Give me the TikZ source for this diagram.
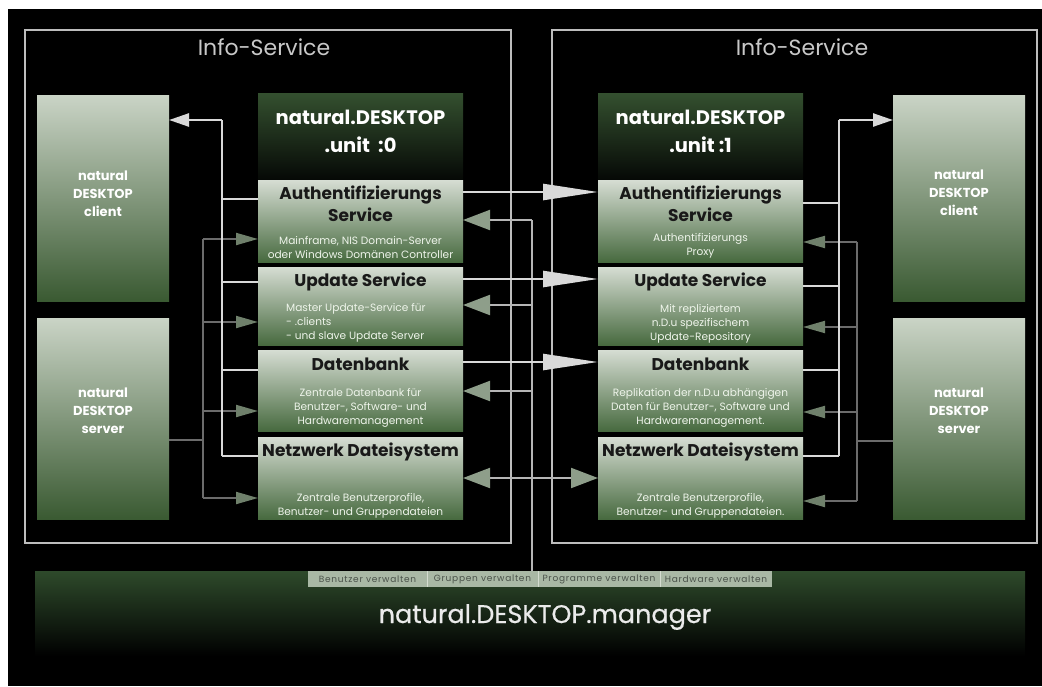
\documentclass[tikz,border=0pt]{standalone}
\usepackage{fontspec}
\setmainfont{Poppins}
\newfontfamily\tabfont[LetterSpace=8]{Poppins}
\newfontfamily\mgrfont[FakeBold=0.6]{Poppins}
\usetikzlibrary{calc,arrows.meta}
\definecolor{svctop}{HTML}{D6DDD3}
\definecolor{svcbot}{HTML}{476A3F}
\definecolor{sidetop}{HTML}{CAD4C6}
\definecolor{sidebot}{HTML}{3A5A32}
\definecolor{hdrtop}{HTML}{34502F}
\definecolor{hdrbot}{HTML}{060906}
\definecolor{mgrtop}{HTML}{2E4A2B}
\definecolor{wline}{HTML}{D9D9D9}
\definecolor{gline}{HTML}{6B6B6B}
\definecolor{mline}{HTML}{B5B5B5}
\definecolor{gtipS}{HTML}{6F806B}
\definecolor{gtipL}{HTML}{8E9E8A}
\definecolor{framec}{HTML}{BDBDBD}
\definecolor{tabfill}{HTML}{A9B8A5}
\definecolor{tabsepc}{HTML}{D4DCD0}
\definecolor{tabtext}{HTML}{4A524A}
\definecolor{smalltxt}{HTML}{EEF4EA}
\definecolor{infotxt}{HTML}{C8C8C8}
\tikzset{
  wS/.tip={Triangle[length=20pt,width=13pt]},
  wL/.tip={Triangle[length=55pt,width=16pt]},
  gS/.tip={Triangle[length=22pt,width=12pt,color=gtipS]},
  gL/.tip={Triangle[length=27pt,width=20pt,color=gtipL]},
  box/.style={rectangle, inner sep=0pt, outer sep=0pt, anchor=north west, draw=none},
  svc/.style={box, minimum width=205pt, top color=svctop, bottom color=svcbot},
  hdr/.style={box, minimum width=205pt, minimum height=86pt, top color=hdrtop, bottom color=hdrbot},
  side/.style={box, minimum width=132pt, top color=sidetop, bottom color=sidebot},
  frm/.style={box, draw=framec, line width=1.6pt},
  ttl/.style={inner sep=0pt, align=center, text=black!90, font=\fontsize{17}{22}\selectfont\bfseries},
  sml/.style={inner sep=0pt, align=center, text=smalltxt, font=\fontsize{10.6}{14}\selectfont},
  sidetxt/.style={inner sep=0pt, align=center, text=white, font=\fontsize{13}{18}\selectfont\bfseries},
  hdrtxt/.style={inner sep=0pt, align=center, text=white, font=\fontsize{19.5}{28}\selectfont\bfseries},
  info/.style={inner sep=0pt, text=infotxt, font=\fontsize{22}{26}\selectfont},
  mgrtxt/.style={inner sep=0pt, text=white!92!black, font=\mgrfont\fontsize{25.5}{30}\selectfont},
  tabtxt/.style={inner sep=0pt, text=tabtext, font=\tabfont\fontsize{9}{10}\selectfont},
  wl/.style={draw=wline, line width=2.5pt},
  gl/.style={draw=gline, line width=2pt},
  ml/.style={draw=mline, line width=2pt},
  tabsep/.style={draw=tabsepc, line width=1pt}
}
\begin{document}
\begin{tikzpicture}[x=1pt,y=-1pt]
\useasboundingbox (0,0) rectangle (1042,686);
\fill[white] (0,0) rectangle (1042,686);
\fill[black] (8,9) rectangle (1042,686);

% frames
\node[frm, minimum width=486pt, minimum height=513pt] (LF) at (25,30) {};
\node[frm, minimum width=485pt, minimum height=513pt] (RF) at (552,30) {};
\node[info] (LFt) at (264,47) {Info-Service};
\node[info] (RFt) at (802,47) {Info-Service};

% left unit
\node[side, minimum height=206pt] (LC) at (37,95) {};
\node[side, minimum height=201pt] (LS) at (37,318) {};
\node[hdr] (LH) at (258,93) {};
\node[svc, minimum height=82pt] (LA) at (258,180) {};
\node[svc, minimum height=78pt] (LU) at (258,267) {};
\node[svc, minimum height=81pt] (LD) at (258,350) {};
\node[svc, minimum height=82pt] (LN) at (258,437) {};

% right unit
\node[side, minimum height=206pt] (RC) at (893,95) {};
\node[side, minimum height=201pt] (RS) at (893,318) {};
\node[hdr] (RH) at (598,93) {};
\node[svc, minimum height=82pt] (RA) at (598,180) {};
\node[svc, minimum height=78pt] (RU) at (598,267) {};
\node[svc, minimum height=81pt] (RD) at (598,350) {};
\node[svc, minimum height=82pt] (RN) at (598,437) {};

% manager
\node[box, minimum width=990pt, minimum height=85pt, top color=mgrtop, bottom color=black] (M) at (35,571) {};
\node[box, minimum width=464pt, minimum height=16pt, fill=tabfill] (T) at (308,571) {};
\draw[tabsep] ($(T.north west)+(119,0)$) -- ($(T.south west)+(119,0)$);
\draw[tabsep] ($(T.north west)+(230,0)$) -- ($(T.south west)+(230,0)$);
\draw[tabsep] ($(T.north west)+(352,0)$) -- ($(T.south west)+(352,0)$);
\node[tabtxt] (T1) at ($(T.west)+(59.5,0)$) {Benutzer verwalten};
\node[tabtxt] (T2) at ($(T.west)+(174.5,0)$) {Gruppen verwalten};
\node[tabtxt] (T3) at ($(T.west)+(291,0)$) {Programme verwalten};
\node[tabtxt] (T4) at ($(T.west)+(408,0)$) {Hardware verwalten};
\node[mgrtxt] (Mt) at ($(M.north)+(15,46)$) {natural.DESKTOP.manager};

% texts left
\node[sidetxt] (LCt) at ($(LC.north)+(0,99)$) {natural\\DESKTOP\\client};
\node[sidetxt] (LSt) at ($(LS.north)+(0,93)$) {natural\\DESKTOP\\server};
\node[hdrtxt] (LHt) at ($(LH.north)+(0,38)$) {natural.DESKTOP\\.unit\ \ :0};
\node[ttl] (LAt) at ($(LA.north)+(0,24)$) {Authentifizierungs\\Service};
\node[sml] (LAs) at ($(LA.north)+(0,67.5)$) {Mainframe, NIS Domain-Server\\oder Windows Domänen Controller};
\node[ttl] (LUt) at ($(LU.north)+(0,15)$) {Update Service};
\node[sml, align=left, anchor=west] (LUs) at ($(LU.north west)+(28,56)$) {Master Update-Service für\\- .clients\\- und slave Update Server};
\node[ttl] (LDt) at ($(LD.north)+(0,14)$) {Datenbank};
\node[sml] (LDs) at ($(LD.north)+(0,58)$) {Zentrale Datenbank für\\Benutzer-, Software- und\\Hardwaremanagement};
\node[ttl] (LNt) at ($(LN.north)+(0,15)$) {Netzwerk Dateisystem};
\node[sml] (LNs) at ($(LN.north)+(0,69)$) {Zentrale Benutzerprofile,\\Benutzer- und Gruppendateien};

% texts right
\node[sidetxt] (RCt) at ($(RC.north)+(0,98)$) {natural\\DESKTOP\\client};
\node[sidetxt] (RSt) at ($(RS.north)+(0,93)$) {natural\\DESKTOP\\server};
\node[hdrtxt] (RHt) at ($(RH.north)+(0,38)$) {natural.DESKTOP\\.unit :1};
\node[ttl] (RAt) at ($(RA.north)+(0,24)$) {Authentifizierungs\\Service};
\node[sml] (RAs) at ($(RA.north)+(0,66)$) {Authentifizierungs\\Proxy};
\node[ttl] (RUt) at ($(RU.north)+(0,15)$) {Update Service};
\node[sml] (RUs) at ($(RU.north)+(0,56.5)$) {Mit repliziertem\\n.D.u spezifischem\\Update-Repository};
\node[ttl] (RDt) at ($(RD.north)+(0,14)$) {Datenbank};
\node[sml] (RDs) at ($(RD.north)+(0,58)$) {Replikation der n.D.u abhängigen\\Daten für Benutzer-, Software und\\Hardwaremanagement.};
\node[ttl] (RNt) at ($(RN.north)+(0,15)$) {Netzwerk Dateisystem};
\node[sml] (RNs) at ($(RN.north)+(0,69)$) {Zentrale Benutzerprofile,\\Benutzer- und Gruppendateien.};

% ---------- left connectors ----------
\coordinate (LWt) at (222,120);
\coordinate (LWb) at (222,456);
\coordinate (LGt) at (203,239);
\coordinate (LGb) at (203,498);
\coordinate (la1) at ($(LA.north west)+(0,19)$);
\coordinate (lu1) at ($(LU.north west)+(0,15)$);
\coordinate (ld1) at ($(LD.north west)+(0,20)$);
\coordinate (ln1) at ($(LN.north west)+(0,19)$);
\coordinate (la2) at ($(LA.north west)+(0,59)$);
\coordinate (lu2) at ($(LU.north west)+(0,55)$);
\coordinate (ld2) at ($(LD.north west)+(0,61)$);
\coordinate (ln2) at ($(LN.north west)+(0,61)$);
\coordinate (ls1) at ($(LS.north east)+(0,122)$);

\draw[gl] (LGt) -- (LGb);
\draw[gl] (ls1) -- (ls1 -| LGt);
\draw[gl,-gS] (la2 -| LGt) -- (la2);
\draw[gl,-gS] (lu2 -| LGt) -- (lu2);
\draw[gl,-gS] (ld2 -| LGt) -- (ld2);
\draw[gl,-gS] (ln2 -| LGt) -- (ln2);

\draw[wl] (LWb) -- (LWt);
\draw[wl,-wS] (LWt) -- (LWt -| LC.east);
\draw[wl] (la1) -- (la1 -| LWt);
\draw[wl] (lu1) -- (lu1 -| LWt);
\draw[wl] (ld1) -- (ld1 -| LWt);
\draw[wl] (ln1) -- (ln1 -| LWt);

% ---------- middle connectors ----------
\coordinate (MBt) at (532,220);
\coordinate (la3) at ($(LA.north east)+(0,40)$);
\coordinate (lu3) at ($(LU.north east)+(0,38)$);
\coordinate (ld3) at ($(LD.north east)+(0,41)$);
\coordinate (ln3) at ($(LN.north east)+(0,41)$);
\draw[ml] (T.north -| MBt) -- (MBt);
\draw[ml,-gL] (la3 -| MBt) -- (la3);
\draw[ml,-gL] (lu3 -| MBt) -- (lu3);
\draw[ml,-gL] (ld3 -| MBt) -- (ld3);
\draw[ml,gL-gL] (ln3) -- (ln3 -| RN.west);

\coordinate (ma1) at ($(LA.north east)+(0,12)$);
\coordinate (mu1) at ($(LU.north east)+(0,12)$);
\coordinate (md1) at ($(LD.north east)+(0,12)$);
\draw[wl,-wL] (ma1) -- (ma1 -| RA.west);
\draw[wl,-wL] (mu1) -- (mu1 -| RU.west);
\draw[wl,-wL] (md1) -- (md1 -| RD.west);

% ---------- right connectors ----------
\coordinate (RWt) at (839,120);
\coordinate (RWb) at (839,456);
\coordinate (RGt) at (857,242);
\coordinate (RGb) at (857,501);
\coordinate (ra1) at ($(RA.north east)+(0,23)$);
\coordinate (ru1) at ($(RU.north east)+(0,19)$);
\coordinate (rd1) at ($(RD.north east)+(0,20)$);
\coordinate (rn1) at ($(RN.north east)+(0,19)$);
\coordinate (ra2) at ($(RA.north east)+(0,62)$);
\coordinate (ru2) at ($(RU.north east)+(0,60)$);
\coordinate (rd2) at ($(RD.north east)+(0,62)$);
\coordinate (rn2) at ($(RN.north east)+(0,64)$);
\coordinate (rs1) at ($(RS.north west)+(0,123)$);

\draw[gl] (RGt) -- (RGb);
\draw[gl] (rs1) -- (rs1 -| RGt);
\draw[gl,-gS] (ra2 -| RGt) -- (ra2);
\draw[gl,-gS] (ru2 -| RGt) -- (ru2);
\draw[gl,-gS] (rd2 -| RGt) -- (rd2);
\draw[gl,-gS] (rn2 -| RGt) -- (rn2);

\draw[wl] (RWb) -- (RWt);
\draw[wl,-wS] (RWt) -- (RWt -| RC.west);
\draw[wl] (ra1) -- (ra1 -| RWt);
\draw[wl] (ru1) -- (ru1 -| RWt);
\draw[wl] (rd1) -- (rd1 -| RWt);
\draw[wl] (rn1) -- (rn1 -| RWt);
\end{tikzpicture}
\end{document}
